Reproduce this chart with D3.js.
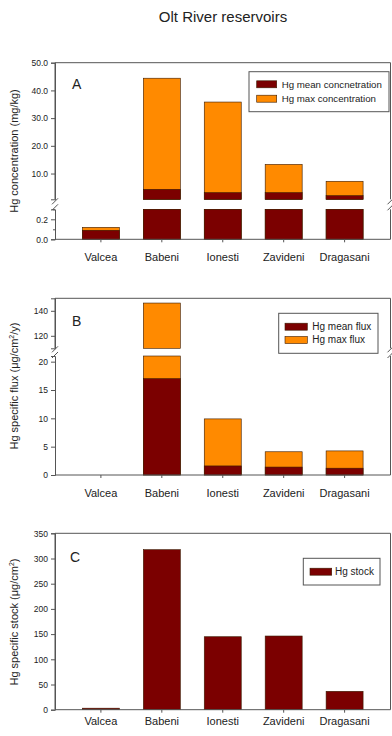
<!DOCTYPE html>
<html><head><meta charset="utf-8">
<script src="https://cdn.jsdelivr.net/npm/d3@7"></script>
<style>body{margin:0;background:#fff}svg{display:block}text{font-family:Arial,"Liberation Sans",sans-serif;fill:#222}</style>
</head><body>
<svg id="c" width="392" height="736"></svg>
<script>
const categories = ["Valcea","Babeni","Ionesti","Zavideni","Dragasani"];
// Panel A: Hg concentration (mg/kg)
const concMean = [0.09, 4.3, 3.1, 3.1, 2.0];
const concMax  = [0.12, 44.4, 35.8, 13.3, 7.2];
const concTicksUpper = [10, 20, 30, 40, 50];
const concTicksLower = [0.0, 0.2];
// Panel B: Hg specific flux (µg/cm2/y)
const fluxMean = [null, 17.0, 1.6, 1.4, 1.2];
const fluxMax  = [null, 146.2, 9.9, 4.1, 4.25];
const fluxTicksUpper = [120, 140];
const fluxTicksLower = [0, 5, 10, 15, 20];
// Panel C: Hg specific stock (µg/cm2)
const stock = [3, 317.5, 144.8, 146.2, 36.5];
const stockTicks = [0, 50, 100, 150, 200, 250, 300, 350];

const DARK = "#7b0000", ORANGE = "#ff8a00", FRAME = "#555";
const svg = d3.select("#c");
const L = 55, R = 390.5;
const x = d3.scaleBand().domain(categories).range([L, R]).paddingInner(0.393).paddingOuter(0.45);

svg.append("text").attr("x", 223).attr("y", 22).attr("text-anchor", "middle")
  .attr("font-size", 15).text("Olt River reservoirs");

function breakMark(g, xx, yy) {
  g.append("line").attr("x1", xx - 3).attr("x2", xx + 3).attr("y1", yy + 3).attr("y2", yy - 3)
    .attr("stroke", FRAME).attr("stroke-width", 1);
}

function segAxis(g, scale, ticks, fmt, minor) {
  const ax = d3.axisLeft(scale).tickValues(ticks).tickFormat(fmt).tickSize(4).tickPadding(3);
  const a = g.append("g").attr("transform", `translate(${L},0)`).call(ax);
  a.select(".domain").attr("stroke", FRAME);
  a.selectAll(".tick line").attr("stroke", FRAME);
  a.selectAll(".tick text").attr("font-size", 8.5).attr("fill", "#333").attr("font-family", "Arial, 'Liberation Sans', sans-serif");
  if (minor) {
    const m = g.append("g").attr("transform", `translate(${L},0)`).call(d3.axisLeft(scale).tickValues(minor).tickFormat("").tickSize(2));
    m.select(".domain").remove();
    m.selectAll(".tick line").attr("stroke", FRAME);
  }
}

function xAxis(g, yBase, labelY) {
  const a = g.append("g").attr("transform", `translate(0,${yBase})`).call(d3.axisBottom(x).tickSize(3).tickFormat(""));
  a.select(".domain").attr("stroke", FRAME).attr("d", `M${L},0H${R}`);
  a.selectAll(".tick line").attr("stroke", FRAME);
  g.selectAll(".xl").data(categories).join("text").attr("class", "xl")
    .attr("x", d => x(d) + x.bandwidth() / 2).attr("y", labelY)
    .attr("text-anchor", "middle").attr("font-size", 11).text(d => d);
}

function bars(g, vals, scale, color, lo, hi, bottom) {
  g.selectAll(null).data(categories.map((c, i) => ({c, v: vals[i]})).filter(d => d.v != null && d.v > lo))
    .join("rect")
    .attr("x", d => x(d.c)).attr("width", x.bandwidth())
    .attr("y", d => scale(Math.min(d.v, hi)))
    .attr("height", d => bottom - scale(Math.min(d.v, hi)))
    .attr("fill", color).attr("stroke", "#3a1a00").attr("stroke-width", 0.6);
}

function legend(g, x0, y0, w, h, items, sw, tx, rowYs, fs) {
  g.append("rect").attr("x", x0).attr("y", y0).attr("width", w).attr("height", h)
    .attr("fill", "#fff").attr("stroke", FRAME).attr("stroke-width", 1);
  items.forEach((it, i) => {
    g.append("rect").attr("x", sw[0]).attr("y", rowYs[i] - 3.5).attr("width", sw[1] - sw[0]).attr("height", 7)
      .attr("fill", it.color).attr("stroke", "#3a1a00").attr("stroke-width", 0.6);
    g.append("text").attr("x", tx).attr("y", rowYs[i] + 3.3).attr("font-size", fs).text(it.label);
  });
}

function yTitle(g, xx, yy, parts) {
  const t = g.append("text").attr("transform", `translate(${xx},${yy}) rotate(-90)`)
    .attr("text-anchor", "middle").attr("font-size", 11);
  parts.forEach(p => {
    const s = t.append("tspan").text(p.t);
    if (p.sup) s.attr("font-size", 7).attr("dy", -4); else if (p.after) s.attr("dy", 4);
  });
}

// ---------- Panel A ----------
{
  const g = svg.append("g");
  const upTop = 62.7, upBot = 199.3, loTop = 209.3, loBot = 239.3;
  const yU = d3.scaleLinear().domain([0.7, 50]).range([upBot, upTop]);
  const yL = d3.scaleLinear().domain([0, 0.3]).range([loBot, loTop]);
  g.append("path").attr("d", `M${L},${upBot}V${upTop}H${R}V${upBot}`).attr("fill", "none").attr("stroke", FRAME);
  g.append("path").attr("d", `M${R},${loTop}V${loBot}`).attr("fill", "none").attr("stroke", FRAME);
  bars(g, concMax, yU, ORANGE, 0.7, 50, upBot);
  bars(g, concMean, yU, DARK, 0.7, 50, upBot);
  bars(g, concMax, yL, ORANGE, 0, 0.3, loBot);
  bars(g, concMean, yL, DARK, 0, 0.3, loBot);
  segAxis(g, yU, concTicksUpper, d3.format(".1f"), null);
  segAxis(g, yL, concTicksLower, d3.format(".1f"), [0.1, 0.3]);
  xAxis(g, loBot, 261);
  breakMark(g, L, upBot + 2); breakMark(g, L, loTop - 2);
  breakMark(g, R, upBot + 2); breakMark(g, R, loTop - 2);
  g.append("text").attr("x", 72).attr("y", 89).attr("font-size", 14).text("A");
  legend(g, 249, 71.7, 140, 40,
    [{label: "Hg mean concnetration", color: DARK}, {label: "Hg max concentration", color: ORANGE}],
    [256.7, 276.7], 281.7, [84.3, 98.7], 9.7);
  yTitle(g, 18, 151, [{t: "Hg concentration (mg/kg)"}]);
}

// ---------- Panel B ----------
{
  const g = svg.append("g");
  const upTop = 298.3, upBot = 348.3, loTop = 356, loBot = 475;
  const yU = d3.scaleLinear().domain([110, 150]).range([upBot, upTop]);
  const yL = d3.scaleLinear().domain([0, 21]).range([loBot, loTop]);
  g.append("path").attr("d", `M${L},${upBot}V${upTop}H${R}V${upBot}`).attr("fill", "none").attr("stroke", FRAME);
  g.append("path").attr("d", `M${R},${loTop}V${loBot}`).attr("fill", "none").attr("stroke", FRAME);
  bars(g, fluxMax, yU, ORANGE, 110, 150, upBot);
  bars(g, fluxMean, yU, DARK, 110, 150, upBot);
  bars(g, fluxMax, yL, ORANGE, 0, 21, loBot);
  bars(g, fluxMean, yL, DARK, 0, 21, loBot);
  segAxis(g, yU, fluxTicksUpper, d3.format("d"), null);
  segAxis(g, yL, fluxTicksLower, d3.format("d"), null);
  xAxis(g, loBot, 497);
  breakMark(g, L, upBot + 1); breakMark(g, L, loTop - 1);
  breakMark(g, R, upBot + 1); breakMark(g, R, loTop - 1);
  g.append("text").attr("x", 72).attr("y", 326).attr("font-size", 14).text("B");
  legend(g, 278.7, 313.3, 99.3, 40,
    [{label: "Hg mean flux", color: DARK}, {label: "Hg max flux", color: ORANGE}],
    [285, 307.3], 312.3, [326.7, 340], 10);
  yTitle(g, 18, 386, [{t: "Hg specific flux (μg/cm"}, {t: "2", sup: true}, {t: "/y)", after: true}]);
}

// ---------- Panel C ----------
{
  const g = svg.append("g");
  const top = 533.3, bot = 709.7;
  const y = d3.scaleLinear().domain([0, 350]).range([bot, top]);
  g.append("path").attr("d", `M${L},${bot}V${top}H${R}V${bot}`).attr("fill", "none").attr("stroke", FRAME);
  bars(g, stock, y, DARK, 0, 350, bot);
  segAxis(g, y, stockTicks, d3.format("d"), null);
  xAxis(g, bot, 725);
  g.append("text").attr("x", 70).attr("y", 562).attr("font-size", 14).text("C");
  legend(g, 303.3, 558.3, 76.7, 26.7, [{label: "Hg stock", color: DARK}], [310, 331.7], 335, [571.7], 10);
  yTitle(g, 18, 622, [{t: "Hg specific stock (μg/cm"}, {t: "2", sup: true}, {t: ")", after: true}]);
}
</script>
</body></html>
